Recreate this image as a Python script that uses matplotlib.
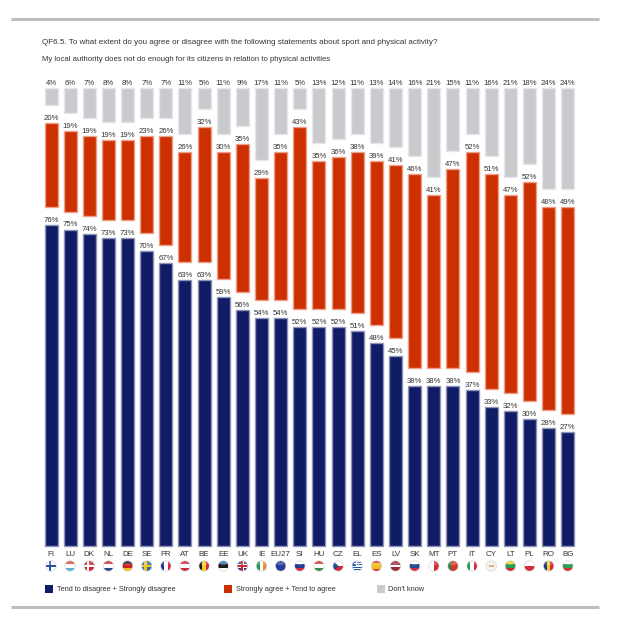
import matplotlib
matplotlib.use("Agg")
import matplotlib.pyplot as plt
from matplotlib.patches import Ellipse, Rectangle, Polygon
from matplotlib.lines import Line2D

countries = ["FI","LU","DK","NL","DE","SE","FR","AT","BE","EE","UK","IE","EU27","SI",
             "HU","CZ","EL","ES","LV","SK","MT","PT","IT","CY","LT","PL","RO","BG"]
disagree = [76,75,74,73,73,70,67,63,63,59,56,54,54,52,52,52,51,48,45,38,38,38,37,33,32,30,28,27]
agree    = [20,19,19,19,19,23,26,26,32,30,35,29,35,43,35,36,38,39,41,46,41,47,52,51,47,52,48,49]
dontknow = [4,6,7,8,8,7,7,11,5,11,9,17,11,5,13,12,11,13,14,16,21,15,11,16,21,18,24,24]

title1 = "QF6.5. To what extent do you agree or disagree with the following statements about sport and physical activity?"
title2 = "My local authority does not do enough for its citizens in relation to physical activities"
legend_labels = ["Tend to disagree + Strongly disagree", "Strongly agree + Tend to agree", "Don't know"]

NAVY, RED, GREY = "#101c66", "#cc3000", "#c8cacd"
NAVY_E, RED_E, GREY_E = "#8e94b8", "#ee9f88", "#e6e7e9"
TXT = "#333333"
FONT = "Liberation Sans"
W, H = 631, 635
PX_X, PX_Y = 19.14, 4.22      # pixels per category, pixels per percentage point
X0, Y0 = 51.0, 546.0          # pixel position of first category and of 0 %
GAP = 18 / PX_Y               # white gap between stacked segments

plt.rcParams["font.family"] = FONT
fig = plt.figure(figsize=(W / 100, H / 100), dpi=100)
ax = fig.add_axes([0, 0, 1, 1])
ax.set_xlim(-X0 / PX_X, (W - X0) / PX_X)
ax.set_ylim(-(H - Y0) / PX_Y, Y0 / PX_Y)
ax.axis("off")

x = list(range(len(countries)))
bw = 13 / PX_X
bar_kw = dict(width=bw, linewidth=1.0)
ax.bar(x, disagree, color=NAVY, edgecolor=NAVY_E, **bar_kw)
red_bottom = [d + GAP for d in disagree]
ax.bar(x, agree, bottom=red_bottom, color=RED, edgecolor=RED_E, **bar_kw)
grey_bottom = [d + a + 2 * GAP for d, a in zip(disagree, agree)]
ax.bar(x, dontknow, bottom=grey_bottom, color=GREY, edgecolor=GREY_E, **bar_kw)

lab_kw = dict(ha="center", va="bottom", fontsize=5.6, color=TXT)
off = 1.0 / PX_Y
for i in x:
    ax.text(i, disagree[i] + off, f"{disagree[i]}%", **lab_kw)
    ax.text(i, red_bottom[i] + agree[i] + off, f"{agree[i]}%", **lab_kw)
    ax.text(i, grey_bottom[i] + dontknow[i] + off, f"{dontknow[i]}%", **lab_kw)
    ax.text(i, -9 / PX_Y, countries[i], ha="center", va="center", fontsize=5.8, color=TXT)

# Round flags
H3 = lambda a, b, c: ("h", [a, b, c])
V3 = lambda a, b, c: ("v", [a, b, c])
FLAGS = {
    "FI": ("cross", "#ffffff", "#1f4f9c"), "LU": H3("#e0413a", "#ffffff", "#5ab0e0"),
    "DK": ("cross", "#d0242e", "#ffffff"), "NL": H3("#c8282e", "#ffffff", "#2a4a90"),
    "DE": H3("#1a1a1a", "#cc1f1f", "#f0c020"), "SE": ("cross", "#2a6aa8", "#f0c820"),
    "FR": V3("#1f3a90", "#ffffff", "#d8283a"), "AT": H3("#d0283a", "#ffffff", "#d0283a"),
    "BE": V3("#1a1a1a", "#f0d020", "#d8283a"), "EE": H3("#2a6aa8", "#1a1a1a", "#ffffff"),
    "UK": ("uk", "#2a3f88", "#d0242e"), "IE": V3("#1e9a50", "#ffffff", "#f08a30"),
    "EU27": ("solid", "#2a3a98"), "SI": H3("#ffffff", "#1f3a90", "#d8283a"),
    "HU": H3("#d0342e", "#ffffff", "#3a8a50"), "CZ": ("cz", "#ffffff", "#d0283a", "#1f4a90"),
    "EL": ("el", "#1f5ab0", "#ffffff"), "ES": ("h", ["#d0342e", "#f0c020", "#f0c020", "#d0342e"]),
    "LV": ("h", ["#9c2a3a", "#9c2a3a", "#ffffff", "#9c2a3a", "#9c2a3a"]),
    "SK": H3("#ffffff", "#1f4a90", "#d8283a"), "MT": ("v", ["#ffffff", "#d8283a"]),
    "PT": ("v", ["#1e8a4a", "#d8342e", "#d8342e"]), "IT": V3("#1e9a50", "#ffffff", "#d8283a"),
    "CY": ("cy", "#f4f4f2", "#e0b070"), "LT": H3("#e8d020", "#2a9a50", "#c8282e"),
    "PL": ("h", ["#ffffff", "#d8283a"]), "RO": V3("#1f3a90", "#f0d020", "#d8283a"),
    "BG": H3("#ffffff", "#2a9a50", "#d0342e"),
}
R = 5.2
FY = -20.0  # flag centre below the baseline, pixels

def add_flag(i, spec):
    cx, cy = i, FY / PX_Y
    sx, sy = 1 / PX_X, 1 / PX_Y
    clip = Ellipse((cx, cy), 2 * R * sx, 2 * R * sy, transform=ax.transData, fc="none", ec="none")
    ax.add_patch(clip)
    def rect(px, py, pw, ph, col):
        p = Rectangle((cx + px * sx, cy + py * sy), pw * sx, ph * sy, fc=col, ec="none", zorder=3)
        ax.add_patch(p); p.set_clip_path(clip)
    kind = spec[0]
    if kind == "h":
        n = len(spec[1])
        for k, c in enumerate(spec[1]):
            rect(-R, R - (k + 1) * 2 * R / n, 2 * R, 2 * R / n + 0.05, c)
    elif kind == "v":
        n = len(spec[1])
        for k, c in enumerate(spec[1]):
            rect(-R + k * 2 * R / n, -R, 2 * R / n + 0.05, 2 * R, c)
    elif kind == "cross":
        # spec = ("cross", background, cross colour)
        rect(-R, -R, 2 * R, 2 * R, spec[1])
        rect(-2.4, -R, 2.2, 2 * R, spec[2])
        rect(-R, -1.1, 2 * R, 2.2, spec[2])
    elif kind == "uk":
        rect(-R, -R, 2 * R, 2 * R, spec[1])
        rect(-1.8, -R, 3.6, 2 * R, "#ffffff"); rect(-R, -1.8, 2 * R, 3.6, "#ffffff")
        rect(-1, -R, 2, 2 * R, spec[2]); rect(-R, -1, 2 * R, 2, spec[2])
    elif kind == "solid":
        rect(-R, -R, 2 * R, 2 * R, spec[1])
    elif kind == "cz":
        rect(-R, 0, 2 * R, R, spec[1]); rect(-R, -R, 2 * R, R, spec[2])
        p = Polygon([(cx - R * sx, cy + R * sy), (cx + 0.5 * sx, cy), (cx - R * sx, cy - R * sy)],
                    fc=spec[3], ec="none", zorder=4)
        ax.add_patch(p); p.set_clip_path(clip)
    elif kind == "el":
        for k in range(9):
            rect(-R, R - (k + 1) * 2 * R / 9, 2 * R, 2 * R / 9 + 0.03, spec[1] if k % 2 else spec[2])
        rect(-R, -0.2, 4.6, R + 0.2, spec[1])
        rect(-3.3, 1.7, 4.6, 1.0, spec[2]); rect(-1.3, -0.2, 1.0, R, spec[2])
    elif kind == "cy":
        rect(-R, -R, 2 * R, 2 * R, spec[1])
        rect(-2.4, -0.7, 4.8, 1.8, spec[2])
    ax.add_patch(Ellipse((cx, cy), 2 * R * sx, 2 * R * sy, fc="none", ec="#d4d4d6", lw=0.5, zorder=5))
    ax.add_patch(Ellipse((cx, cy + 2.4 * sy), 7 * sx, 3.6 * sy, fc="white", ec="none", alpha=0.22, zorder=5))

for i, c in enumerate(countries):
    add_flag(i, FLAGS[c])

# Title, legend and rules in figure pixels
def fx(p): return p / W
def fy(p): return 1 - p / H

fig.text(fx(42), fy(43), title1, ha="left", va="center", fontsize=5.75, color=TXT)
fig.text(fx(42), fy(59.5), title2, ha="left", va="center", fontsize=5.6, color=TXT)

for sq_x, col, lab in zip([45, 223.5, 376.5], [NAVY, RED, GREY], legend_labels):
    fig.add_artist(Rectangle((fx(sq_x), fy(592.7)), 8 / W, 7.7 / H, transform=fig.transFigure, fc=col, ec="none"))
    fig.text(fx(sq_x + 12), fy(589.3), lab, ha="left", va="center", fontsize=5.35, color=TXT)

for yy in (18.5, 607.3):
    fig.add_artist(Line2D([fx(11), fx(599)], [fy(yy), fy(yy)], color="#bebebe", lw=2.2, solid_capstyle="butt"))

fig.savefig("out.png", dpi=100)
